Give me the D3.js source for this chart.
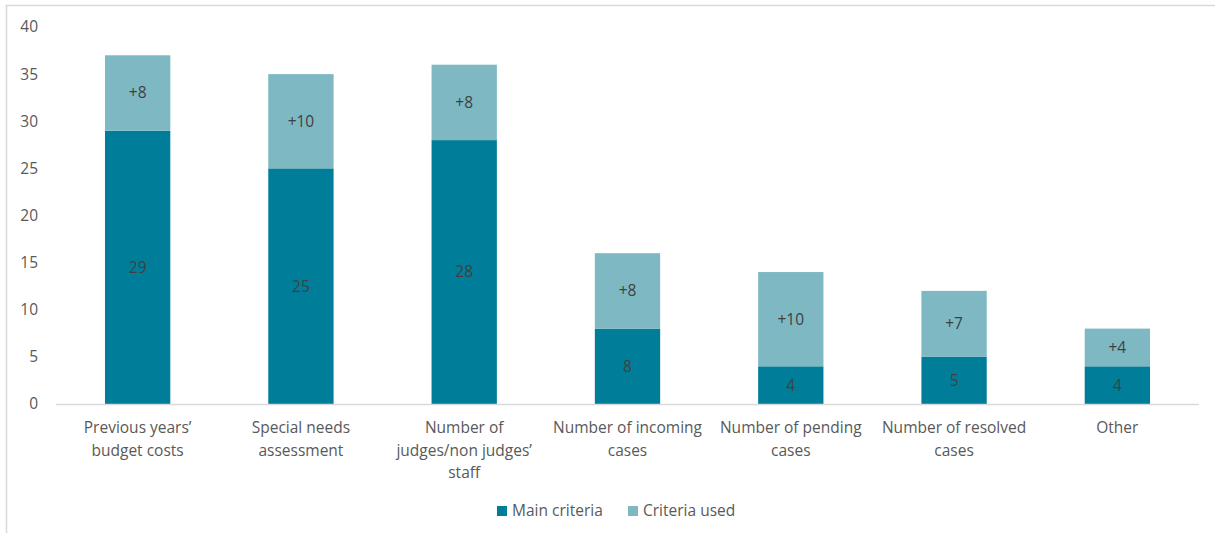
<!DOCTYPE html>
<html><head><meta charset="utf-8">
<script src="https://cdn.jsdelivr.net/npm/d3@7"></script>
<style>
html,body{margin:0;padding:0;background:#fff;}
svg{display:block;}
text{font-family:"Open Sans","Noto Sans",sans-serif;}
</style></head>
<body>
<svg id="c" width="1215" height="533"></svg>
<script>
const categories = [
  ["Previous years\u2019","budget costs"],
  ["Special needs","assessment"],
  ["Number of","judges/non judges\u2019","staff"],
  ["Number of incoming","cases"],
  ["Number of pending","cases"],
  ["Number of resolved","cases"],
  ["Other"]
];
const mainCriteria = [29, 25, 28, 8, 4, 5, 4];
const criteriaUsed = [8, 10, 8, 8, 10, 7, 4];
const yTicks = [0, 5, 10, 15, 20, 25, 30, 35, 40];
const seriesNames = ["Main criteria", "Criteria used"];
const colors = ["#007E99", "#7DB8C3"];

const svg = d3.select("#c");
// outer border
svg.append("path").attr("d","M6.5,533 V5.5 H1215").attr("fill","none").attr("stroke","#D9D9D9").attr("stroke-width",1.5);

const x0 = 56, x1 = 1199, yBase = 404, yTop = 27;
const keys = categories.map((d,i)=>i);
const x = d3.scaleBand().domain(keys).range([x0, x1]).paddingInner(0.6).paddingOuter(0.3);
const y = d3.scaleLinear().domain([0, 40]).range([yBase, yTop]);

// y tick labels
svg.append("g").selectAll("text").data(yTicks).join("text")
  .attr("x", 38).attr("y", d => y(d)).attr("dy","0.35em")
  .attr("text-anchor","end").attr("fill","#595959").attr("font-size",15.5)
  .text(d => d);

const data = keys.map(i => ({i, a: mainCriteria[i], b: criteriaUsed[i]}));
const stack = d3.stack().keys(["a","b"])(data);

const g = svg.append("g");
stack.forEach((layer, li) => {
  g.selectAll(null).data(layer).join("rect")
    .attr("x", d => x(d.data.i))
    .attr("width", x.bandwidth())
    .attr("y", d => y(d[1]))
    .attr("height", d => y(d[0]) - y(d[1]))
    .attr("fill", colors[li]);
});
// value labels
stack.forEach((layer, li) => {
  g.selectAll(null).data(layer).join("text")
    .attr("x", d => x(d.data.i) + x.bandwidth()/2)
    .attr("y", d => (y(d[0]) + y(d[1]))/2)
    .attr("dy","0.35em").attr("text-anchor","middle")
    .attr("fill","#404040").attr("font-size",15.5)
    .text(d => (li === 1 ? "+" : "") + (d[1]-d[0]));
});

// x axis line
svg.append("line").attr("x1",x0).attr("x2",x1).attr("y1",yBase+0.5).attr("y2",yBase+0.5)
  .attr("stroke","#D9D9D9").attr("stroke-width",1.5);

// category labels
const cl = svg.append("g").selectAll("text").data(keys).join("text")
  .attr("text-anchor","middle").attr("fill","#595959").attr("font-size",15.5);
cl.each(function(i){
  const t = d3.select(this);
  categories[i].forEach((line, k) => {
    t.append("tspan").attr("x", x(i) + x.bandwidth()/2).attr("y", 433 + k*22.5).text(line);
  });
});

// legend
const legendX = [497, 628];
const lg = svg.append("g");
seriesNames.forEach((n, k) => {
  lg.append("rect").attr("x", legendX[k]).attr("y", 506).attr("width", 10).attr("height", 10).attr("fill", colors[k]);
  lg.append("text").attr("x", legendX[k] + 15).attr("y", 511).attr("dy","0.35em")
    .attr("fill","#595959").attr("font-size",15.5).text(n);
});
</script>
</body></html>
